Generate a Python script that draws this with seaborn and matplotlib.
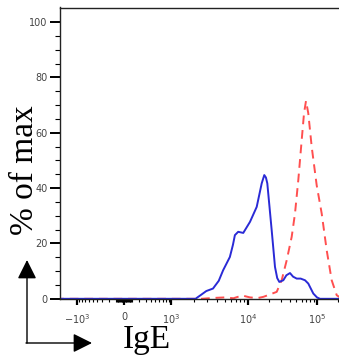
#!/usr/bin/env python

import numpy as np
import pandas as pd
import matplotlib
matplotlib.use("Agg")
import matplotlib.pyplot as plt
from matplotlib.ticker import FixedLocator, FixedFormatter
import seaborn as sns

# IgE intensity values and % of max for the two histograms
blue_ige = [-3000, 0, 1000, 2100, 2500, 2900, 3540, 4200, 4780, 5840, 6400, 6780,
            7480, 8690, 10690, 13370, 15800, 17220, 18200, 19050, 22040, 24620,
            26500, 28430, 32490, 36000, 40600, 45000, 50800, 58000, 67000, 74800,
            88400, 100000, 110500, 300000]
blue_pct = [0, 0, 0, 0, 1.5, 2.8, 3.7, 6.5, 10.3, 15.1, 19.5, 23.0,
            24.2, 23.8, 27.8, 33.2, 41.7, 44.7, 43.8, 41.7, 24.8, 11.5,
            7.5, 6.1, 6.7, 8.5, 9.3, 8.0, 7.3, 7.3, 6.7, 5.5,
            1.9, 0.5, 0, 0]

red_ige = [-3000, 0, 1000, 2500, 3540, 5020, 6500, 8400, 10690, 14000, 16670,
           18000, 26060, 30760, 36370, 42980, 47980, 53580, 59990, 64830,
           69290, 74770, 83790, 99000, 117000, 138300, 163300, 193000, 230000]
red_pct = [0, 0, 0, 0, 0.3, 0.5, 0.2, 1.2, 0.5, 0.3, 0.7,
           1.0, 2.5, 6.7, 13.9, 22.4, 30.8, 42.9, 57.3, 67.0,
           71.5, 67.0, 54.9, 41.0, 30.8, 17.5, 6.7, 1.3, 0]

major_ticks = [-1e3, 0, 1e3, 1e4, 1e5]
major_labels = [r"$-10^{3}$", "0", r"$10^{3}$", r"$10^{4}$", r"$10^{5}$"]

# biexponential-like display scale (anchors in pixel units of the axis)
C = 300.0
anchor_vals = np.array([-1e4, -1e3, 0, 1e3, 1e4, 1e5, 1e6])
anchor_pos = np.array([0, 77, 124, 171, 248, 317, 386], dtype=float)
anchor_u = np.arcsinh(anchor_vals / C)


def fwd(x):
    return np.interp(np.arcsinh(np.asarray(x, dtype=float) / C), anchor_u, anchor_pos)


def inv(p):
    return C * np.sinh(np.interp(np.asarray(p, dtype=float), anchor_pos, anchor_u))


def main():
    W, H = 339, 358
    fig = plt.figure(figsize=(W / 100, H / 100), dpi=100)
    ax = fig.add_axes([60 / W, (H - 298.8) / H, 279 / W, (298.8 - 7.5) / H])

    df_b = pd.DataFrame({"IgE": blue_ige, "pct": blue_pct})
    df_r = pd.DataFrame({"IgE": red_ige, "pct": red_pct})

    ax.set_xscale("function", functions=(fwd, inv))
    sns.lineplot(data=df_r, x="IgE", y="pct", ax=ax, color="#ff4f4f", lw=1.4,
                 linestyle=(0, (4.5, 3.0)), estimator=None, sort=True)
    sns.lineplot(data=df_b, x="IgE", y="pct", ax=ax, color="#2a2ad6", lw=1.4,
                 estimator=None, sort=True)

    ax.set_xlim(float(inv(60)), float(inv(339)))
    ax.set_ylim(0, (298.8 - 7.5) / 2.768)

    # x ticks
    minors = []
    for s in (-1, 1):
        minors += [s * k * 10 for k in range(1, 10)]
        minors += [s * k * 100 for k in range(1, 10)]
    minors += [k * 1000 for k in range(2, 10)]
    minors += [k * 10000 for k in range(2, 10)]
    minors += [2e5]
    ax.xaxis.set_major_locator(FixedLocator(major_ticks))
    ax.xaxis.set_major_formatter(FixedFormatter(major_labels))
    ax.xaxis.set_minor_locator(FixedLocator(minors))

    ax.set_yticks([0, 20, 40, 60, 80, 100])
    ax.set_yticks(np.arange(0, 105, 5), minor=True)

    ax.tick_params(axis="x", which="major", length=4.5, width=1.6, labelsize=7,
                   labelcolor="#444444", pad=5)
    ax.tick_params(axis="x", which="minor", length=2.5, width=0.8)
    ax.tick_params(axis="y", which="major", length=7, width=1.4, labelsize=7,
                   labelcolor="#444444", pad=2)
    ax.tick_params(axis="y", which="minor", length=3.5, width=0.8)

    ax.set_xlabel("")
    ax.set_ylabel("")
    ax.spines["right"].set_visible(False)
    for sp in ("left", "bottom", "top"):
        ax.spines[sp].set_linewidth(1.0)
        ax.spines[sp].set_color("#222222")

    fig.text(25 / W, 1 - 170 / H, "% of max", rotation=90, ha="center", va="center",
             family="Liberation Serif", fontsize=24)
    fig.text(146.5 / W, 10 / H, "IgE", ha="center", va="baseline",
             family="Liberation Serif", fontsize=24)

    # corner arrows
    arrow = dict(arrowstyle="-|>,head_length=0.4,head_width=0.2", mutation_scale=29,
                 lw=1.0, color="black", shrinkA=0, shrinkB=0)
    ax.annotate("", xy=(27, H - 260), xytext=(27, H - 343), xycoords="figure pixels",
                textcoords="figure pixels", arrowprops=arrow, annotation_clip=False)
    ax.annotate("", xy=(92, H - 343), xytext=(26, H - 343), xycoords="figure pixels",
                textcoords="figure pixels", arrowprops=arrow, annotation_clip=False)

    fig.savefig("out.png", dpi=100)
    plt.close(fig)


if __name__ == "__main__":
    main()
